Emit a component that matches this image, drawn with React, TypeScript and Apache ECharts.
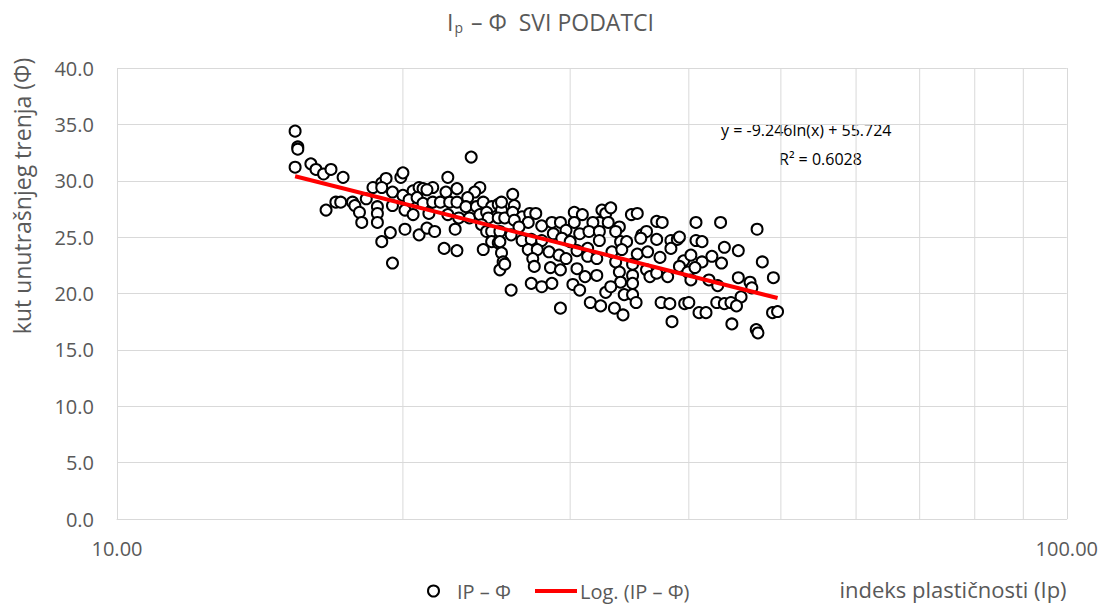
import React, { useEffect, useRef } from "react";
import * as echarts from "echarts";

// Indeks plastičnosti (Ip) and kut unutrašnjeg trenja (Φ)
const ipValues: number[] = [
  15.4, 15.5, 15.5, 15.4, 16.0, 16.2, 16.5, 16.8, 17.3, 16.6, 17.0, 17.2, 17.7, 17.8, 18.0, 18.1, 18.3, 18.6, 18.8, 18.8,
  18.8, 19.0, 19.4, 19.5, 19.0, 19.2, 19.0, 19.5, 19.5, 19.9, 20.0, 20.0, 20.1, 20.1,
  23.6, 22.3, 20.5, 20.8, 21.0, 21.5, 21.2, 22.2, 22.8, 24.1, 23.8, 23.4, 20.3, 20.7, 21.0, 21.5, 21.9, 22.4, 22.8, 23.3,
  23.9, 24.3, 24.8, 25.2, 25.4, 20.5, 21.3, 22.3, 22.9, 23.5, 24.1, 24.5, 24.6, 25.2, 25.6, 20.8, 21.2, 21.6, 22.7, 24.2,
  24.5, 24.8, 25.3, 24.8, 25.2, 22.1, 22.8, 24.3, 25.4, 25.5, 25.3, 26.0,
  26.1, 25.4, 26.2, 26.1, 26.7, 27.2, 27.6, 26.2, 27.1, 26.5, 28.0, 28.7, 29.3, 30.3, 30.9, 32.4, 32.7, 32.2, 31.7, 30.3,
  29.7, 30.7, 31.4, 32.2, 26.0, 26.7, 27.3, 28.0, 28.8, 29.4, 30.0, 25.3, 27.1, 27.7, 28.5, 29.2, 29.7, 30.5, 31.3, 32.2,
  25.6, 27.4, 27.5, 28.6, 29.3, 30.5, 31.3, 32.0, 31.1, 32.0, 27.3, 28.0, 28.7, 30.2, 30.7, 31.5, 32.3, 29.3, 32.7,
  33.1, 32.9, 33.8, 33.5, 34.8, 35.3, 37.0, 37.5, 40.7, 33.9, 34.4, 35.7, 36.1, 35.6, 37.0, 38.3, 38.9, 39.1, 40.7, 41.3,
  33.2, 34.0, 35.3, 36.2, 37.3, 38.3, 39.5, 40.2, 41.3, 33.5, 34.9, 36.1, 36.4, 37.0, 38.0, 39.1, 39.9, 40.6, 40.2, 33.8,
  33.9, 34.9, 34.9, 33.1, 34.2, 34.9, 35.2, 33.4, 34.1, 37.4, 38.2, 39.6, 40.0, 41.0, 41.7, 38.4,
  43.2, 47.2, 43.6, 45.1, 42.3, 43.3, 47.8, 45.1, 46.4, 42.0, 42.9, 49.1, 46.6, 45.4, 42.8, 43.6, 44.3, 44.9, 49.0, 49.6,
  44.4, 47.1, 47.3,
];

const phiValues: number[] = [
  34.4, 33.0, 32.8, 31.2, 31.5, 31.0, 30.6, 31.0, 30.3, 27.4, 28.1, 28.1, 28.1, 27.8, 27.2, 26.3, 28.4, 29.4, 27.7, 27.1,
  26.3, 24.6, 25.4, 22.7, 29.8, 30.2, 29.4, 29.0, 27.8, 30.3, 30.7, 28.7, 27.4, 25.7,
  32.1, 30.3, 29.1, 29.4, 29.3, 29.4, 29.2, 29.0, 29.3, 29.4, 29.0, 28.5, 28.3, 28.5, 28.0, 28.1, 28.1, 28.1, 28.1, 27.7,
  27.7, 28.1, 27.7, 27.9, 27.4, 27.0, 27.1, 27.0, 26.7, 26.7, 27.0, 27.2, 26.7, 26.7, 26.7, 25.2, 25.8, 25.5, 25.7, 26.1,
  25.5, 25.5, 25.5, 24.6, 24.5, 24.0, 23.8, 23.9, 23.6, 22.8, 22.1, 20.3,
  28.8, 28.1, 27.8, 27.2, 26.8, 27.1, 27.1, 26.5, 26.3, 25.9, 26.0, 26.3, 26.3, 27.2, 27.0, 27.4, 27.1, 26.3, 26.3, 26.3,
  25.6, 25.3, 25.5, 25.5, 25.2, 24.7, 24.8, 24.7, 25.3, 24.9, 24.6, 24.6, 23.9, 23.9, 23.7, 23.4, 23.1, 23.8, 24.0, 24.7,
  22.6, 23.1, 22.4, 22.3, 22.1, 22.2, 23.3, 23.1, 21.5, 21.6, 20.9, 20.6, 20.9, 20.8, 20.3, 19.2, 18.9, 18.7, 20.1,
  27.6, 26.3, 25.9, 25.5, 27.0, 27.1, 26.4, 26.3, 26.3, 24.6, 24.6, 25.2, 25.5, 24.9, 24.8, 24.7, 24.8, 25.0, 24.7, 24.6,
  23.7, 23.9, 23.5, 23.7, 23.2, 24.0, 22.9, 23.4, 22.8, 22.8, 22.6, 22.1, 21.5, 21.8, 21.5, 22.4, 21.9, 22.3, 21.2, 21.9,
  21.0, 21.6, 20.9, 20.6, 19.9, 19.9, 19.2, 18.7, 18.1, 19.2, 19.1, 19.1, 19.2, 18.3, 18.3, 17.5,
  26.3, 25.7, 24.1, 23.8, 23.3, 22.7, 22.8, 21.4, 21.0, 21.2, 20.7, 21.4, 20.5, 19.7, 19.2, 19.1, 19.2, 18.9, 18.3, 18.4,
  17.3, 16.8, 16.5,
];

// logarithmic trend line end points: y = -9.246ln(x) + 55.724
const trendIp: number[] = [15.4, 49.6];
const trendPhi: number[] = [30.4, 19.6];

const minorGridIp: number[] = [20, 30, 40, 50, 60, 70, 80, 90];

const TITLE = "SVI PODATCI";
const SCATTER_NAME = "IP – Φ";
const TREND_NAME = "Log. (IP – Φ)";
const X_NAME = "indeks plastičnosti (Ip)";
const Y_NAME = "kut unutrašnjeg trenja (Φ)";
const EQ_TEXT = "y = -9.246ln(x) + 55.724";
const R2_TEXT = "R² = 0.6028";

const FONT = "'Open Sans', 'Noto Sans', sans-serif";
const GREY = "#595959";
const GRID = "#d9d9d9";

export default function App() {
  const ref = useRef<HTMLDivElement>(null);

  useEffect(() => {
    if (!ref.current) return;
    const chart = echarts.init(ref.current, undefined, { renderer: "svg" });

    const scatterData = ipValues.map((x, i) => [x, phiValues[i]]);
    const trendData = trendIp.map((x, i) => [x, trendPhi[i]]);

    const gridSeries = minorGridIp.map((v) => ({
      type: "line",
      data: [
        [v, 0],
        [v, 40],
      ],
      symbol: "none",
      silent: true,
      z: 1,
      lineStyle: { color: GRID, width: 1 },
      tooltip: { show: false },
    }));

    chart.setOption({
      animation: false,
      backgroundColor: "#ffffff",
      title: {
        text: "{a|I}{s|p}{a| – Φ  " + TITLE + "}",
        left: 447,
        top: 10,
        padding: 0,
        textStyle: {
          fontWeight: "normal",
          rich: {
            a: { fontSize: 23, fontWeight: "normal", color: GREY, fontFamily: FONT },
            s: {
              fontSize: 14,
              fontWeight: "normal",
              color: GREY,
              fontFamily: FONT,
              verticalAlign: "bottom",
              padding: [10, 2, 0, 1],
            },
          },
        },
      },
      legend: [
        {
          left: 427,
          top: 580,
          padding: 0,
          itemWidth: 11,
          itemHeight: 11,
          data: [{ name: SCATTER_NAME, icon: "circle" }],
          textStyle: { fontSize: 20, lineHeight: 22, color: GREY, fontFamily: FONT, padding: [0, 0, 0, 13] },
        },
        {
          left: 535,
          top: 580,
          padding: 0,
          itemWidth: 42,
          itemHeight: 4,
          data: [{ name: TREND_NAME, icon: "rect" }],
          textStyle: { fontSize: 20, lineHeight: 22, color: GREY, fontFamily: FONT, padding: [0, 0, 0, -2] },
        },
      ],
      grid: { left: 117, right: 33, top: 68, bottom: 86, containLabel: false },
      xAxis: {
        type: "log",
        logBase: 10,
        min: 10,
        max: 100,
        axisLine: { show: true, lineStyle: { color: GRID } },
        axisTick: { show: false },
        splitLine: { show: true, lineStyle: { color: GRID } },
        axisLabel: {
          margin: 19,
          fontSize: 20,
          color: GREY,
          fontFamily: FONT,
          formatter: (v: number) => v.toFixed(2),
        },
      },
      yAxis: {
        type: "value",
        min: 0,
        max: 40,
        interval: 5,
        axisLine: { show: false },
        axisTick: { show: false },
        splitLine: { show: true, lineStyle: { color: GRID } },
        axisLabel: {
          margin: 23,
          fontSize: 20,
          color: GREY,
          fontFamily: FONT,
          formatter: (v: number) => v.toFixed(1),
        },
      },
      graphic: [
        {
          type: "text",
          x: 22,
          y: 196,
          rotation: Math.PI / 2,
          style: {
            text: Y_NAME,
            font: `23px ${FONT}`,
            fill: GREY,
            textAlign: "center",
            textVerticalAlign: "middle",
          },
        },
        {
          type: "text",
          x: 953,
          y: 589,
          style: {
            text: X_NAME,
            font: `22px ${FONT}`,
            fill: GREY,
            textAlign: "center",
            textVerticalAlign: "middle",
          },
        },
        {
          type: "text",
          x: 721,
          y: 130,
          style: {
            text: EQ_TEXT,
            font: `16px ${FONT}`,
            fill: "#000000",
            textAlign: "left",
            textVerticalAlign: "middle",
          },
        },
        {
          type: "text",
          x: 779,
          y: 159,
          style: {
            text: R2_TEXT,
            font: `16px ${FONT}`,
            fill: "#000000",
            textAlign: "left",
            textVerticalAlign: "middle",
          },
        },
      ],
      series: [
        ...gridSeries,
        {
          name: SCATTER_NAME,
          type: "scatter",
          data: scatterData,
          symbol: "circle",
          symbolSize: 11,
          z: 3,
          itemStyle: { color: "#ffffff", borderColor: "#000000", borderWidth: 2, opacity: 1 },
        },
        {
          name: TREND_NAME,
          type: "line",
          data: trendData,
          symbol: "none",
          z: 4,
          itemStyle: { color: "#ff0000" },
          lineStyle: { color: "#ff0000", width: 4 },
        },
      ],
    });

    return () => {
      chart.dispose();
    };
  }, []);

  return (
    <div
      ref={ref}
      style={{ position: "absolute", left: 0, top: 0, width: 1101, height: 605 }}
    />
  );
}
